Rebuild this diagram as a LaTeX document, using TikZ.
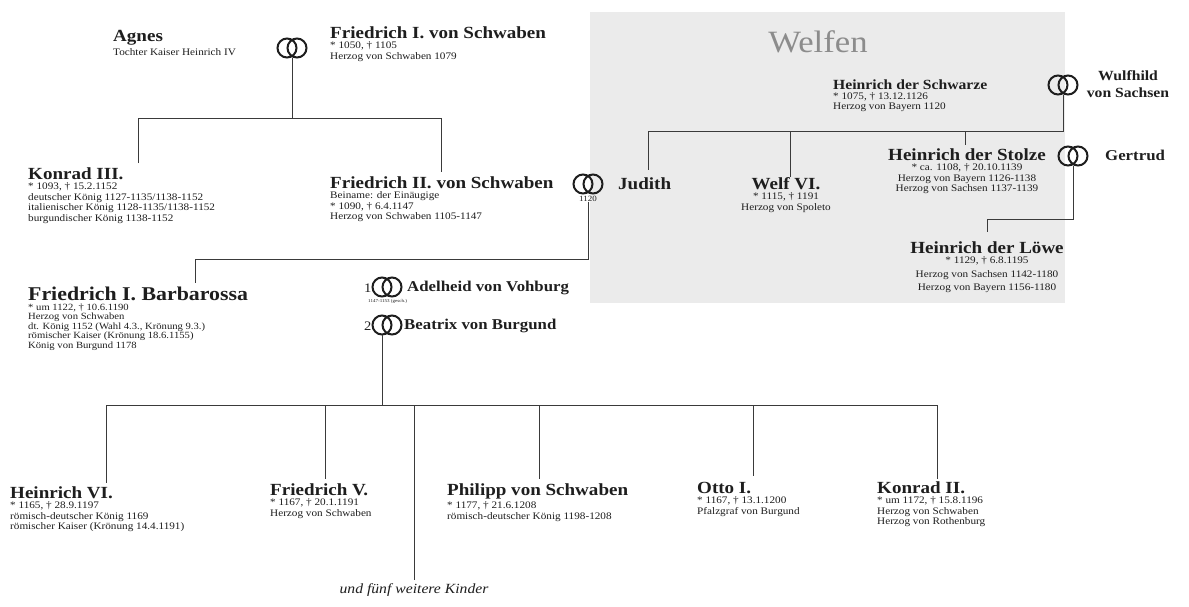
\documentclass[tikz,border=0pt]{standalone}
\usepackage{fontspec}
\setmainfont{Liberation Serif}[FakeStretch=1.12]
\definecolor{ink}{HTML}{1E1E1E}
\definecolor{lin}{HTML}{3A3A3A}
\definecolor{welfbg}{HTML}{EBEBEB}
\definecolor{welftx}{HTML}{8C8C8C}
\tikzset{
 tit/.style={font=\fontsize{17}{17}\selectfont\bfseries, inner sep=0pt, text=ink, anchor=base west},
 mtit/.style={tit, font=\fontsize{15}{17}\selectfont\bfseries},
 bigtit/.style={tit, font=\fontsize{19.5}{19.5}\selectfont\bfseries},
 sub/.style={font=\fontsize{10}{10.5}\selectfont, inner sep=0pt, align=left, text=ink, anchor=north west},
 subc/.style={sub, align=center, anchor=north},
 small/.style={sub, font=\fontsize{9.5}{9.5}\selectfont},
 num/.style={font=\fontsize{13}{13}\selectfont, inner sep=0pt, text=ink, anchor=base west},
 conn/.style={draw=lin, line width=0.9pt},
 ring/.style={draw=ink, line width=2pt},
 ringnode/.style={inner sep=0pt, minimum width=29pt, minimum height=19pt},
 welf/.style={font=\fontsize{31}{31}\selectfont, text=welftx, inner sep=0pt},
 note/.style={font=\fontsize{14}{14}\selectfont\itshape, text=ink, inner sep=0pt, anchor=base},
}
\newcommand\Ringe[2]{%
 \node[ringnode] (#1) at (#2) {};
 \draw[ring] ([xshift=-5pt]#1.center) circle[radius=9.5pt] ([xshift=5pt]#1.center) circle[radius=9.5pt];}
\begin{document}
\begin{tikzpicture}[x=1pt,y=-1pt]
\useasboundingbox (0,0) rectangle (1189,606);
\fill[white] (0,0) rectangle (1189,606);
\fill[welfbg] (590,12) rectangle (1065,303);
\node[welf] (welfen) at (818,42) {Welfen};

% ---------- Staufer, top
\node[tit] (agnes) at (113,41) {Agnes};
\node[sub] (agnesd) at ([yshift=-3pt]agnes.south west) {Tochter Kaiser Heinrich IV};
\Ringe{r1}{292,48}
\node[tit] (fs1) at (330,38) {Friedrich I. von Schwaben};
\node[sub] (fs1d) at ([yshift=-3pt]fs1.south west) {* 1050, † 1105\\Herzog von Schwaben 1079};

\coordinate (j1) at (292,118);
\coordinate (j1l) at (138,118);
\coordinate (j1r) at (441,118);
\coordinate (k3top) at (138,163);
\coordinate (f2top) at (441,172);
\draw[conn] (r1.south) -- (j1);
\draw[conn] (k3top) -- (j1l) -- (j1r) -- (f2top);

\node[tit] (k3) at (28,179) {Konrad III.};
\node[sub] (k3d) at ([yshift=-3pt]k3.south west) {* 1093, † 15.2.1152\\deutscher König 1127-1135/1138-1152\\italienischer König 1128-1135/1138-1152\\burgundischer König 1138-1152};

\node[tit] (f2) at (330,188) {Friedrich II. von Schwaben};
\node[sub] (f2d) at ([yshift=-3pt]f2.south west) {Beiname: der Einäugige\\* 1090, † 6.4.1147\\Herzog von Schwaben 1105-1147};

\Ringe{r3}{588,184}
\node[tit] (judith) at (618,189) {Judith};
\node[sub, font=\fontsize{8}{8}\selectfont, anchor=north] (r3d) at ([yshift=-2pt]r3.south) {1120};

\coordinate (j2) at (588,259);
\coordinate (j2l) at (195,259);
\coordinate (bbtop) at (195,283);
\draw[conn] (r3d.south) -- (j2) -- (j2l) -- (bbtop);

% ---------- Barbarossa
\node[bigtit] (bb) at (28,300) {Friedrich I. Barbarossa};
\node[small] (bbd) at ([yshift=-3pt]bb.south west) {* um 1122, † 10.6.1190\\Herzog von Schwaben\\dt. König 1152 (Wahl 4.3., Krönung 9.3.)\\römischer Kaiser (Krönung 18.6.1155)\\König von Burgund 1178};

\node[num] (n1) at (364,292) {1};
\Ringe{r4}{387,287}
\node[mtit] (adel) at (407,291) {Adelheid von Vohburg};
\node[sub, font=\fontsize{4.5}{4.5}\selectfont] (r4d) at (368,299) {1147-1153 (gesch.)};

\node[num] (n2) at (364,330) {2};
\Ringe{r5}{387,325}
\node[mtit] (beat) at (404,329) {Beatrix von Burgund};

% ---------- children of Barbarossa
\coordinate (j3) at (382,405);
\coordinate (j3l) at (106,405);
\coordinate (j3r) at (937,405);
\draw[conn] ([xshift=-5pt]r5.south) -- (j3);
\draw[conn] (j3l) -- (j3r);
\coordinate (h6top) at (106,483);
\coordinate (f5top) at (325,479);
\coordinate (moretop) at (414,580);
\coordinate (phtop) at (539,479);
\coordinate (ottop) at (753,476);
\coordinate (k2top) at (937,479);
\foreach \c in {h6top,f5top,moretop,phtop,ottop,k2top}
  \draw[conn] (\c |- j3) -- (\c);

\node[tit] (h6) at (10,498) {Heinrich VI.};
\node[sub] (h6d) at ([yshift=-3pt]h6.south west) {* 1165, † 28.9.1197\\römisch-deutscher König 1169\\römischer Kaiser (Krönung 14.4.1191)};
\node[tit] (f5) at (270,495) {Friedrich V.};
\node[sub] (f5d) at ([yshift=-3pt]f5.south west) {* 1167, † 20.1.1191\\Herzog von Schwaben};
\node[note] (more) at (414,593) {und fünf weitere Kinder};
\node[tit] (ph) at (447,495) {Philipp von Schwaben};
\node[sub] (phd) at ([yshift=-3pt]ph.south west) {* 1177, † 21.6.1208\\römisch-deutscher König 1198-1208};
\node[tit] (otto) at (697,493) {Otto I.};
\node[sub] (ottod) at ([yshift=-3pt]otto.south west) {* 1167, † 13.1.1200\\Pfalzgraf von Burgund};
\node[tit] (k2) at (877,493) {Konrad II.};
\node[sub] (k2d) at ([yshift=-3pt]k2.south west) {* um 1172, † 15.8.1196\\Herzog von Schwaben\\Herzog von Rothenburg};

% ---------- Welfen
\node[mtit, font=\fontsize{14}{17}\selectfont\bfseries] (hs) at (833,89) {Heinrich der Schwarze};
\node[sub] (hsd) at ([yshift=-3pt]hs.south west) {* 1075, † 13.12.1126\\Herzog von Bayern 1120};
\Ringe{r6}{1063,85}
\node[mtit, font=\fontsize{14}{17}\selectfont\bfseries, align=center, anchor=north] (wulf) at (1128,70) {Wulfhild\\von Sachsen};

\coordinate (j4) at (1063,131);
\coordinate (jutop) at (648,170);
\coordinate (w6top) at (790,177);
\coordinate (sttop) at (965,145);
\draw[conn] (r6.south) -- (j4) -- (jutop |- j4) -- (jutop);
\draw[conn] (w6top |- j4) -- (w6top);
\draw[conn] (sttop |- j4) -- (sttop);

\node[tit, anchor=base] (w6) at (786,189) {Welf VI.};
\node[subc] (w6d) at ([yshift=-3pt]w6.south) {* 1115, † 1191\\Herzog von Spoleto};

\node[tit] (hst) at (888,160) {Heinrich der Stolze};
\node[subc] (hstd) at ([yshift=-3pt]hst.south) {* ca. 1108, † 20.10.1139\\Herzog von Bayern 1126-1138\\Herzog von Sachsen 1137-1139};
\Ringe{r7}{1073,156}
\node[mtit] (gert) at (1105,160) {Gertrud};

\coordinate (j5) at (1073,219);
\coordinate (hltop) at (987,232);
\draw[conn] (r7.south) -- (j5) -- (hltop |- j5) -- (hltop);
\node[tit, anchor=base] (hl) at (987,253) {Heinrich der Löwe};
\node[subc, font=\fontsize{10}{13.5}\selectfont] (hld) at ([yshift=-3pt]hl.south) {* 1129, † 6.8.1195\\Herzog von Sachsen 1142-1180\\Herzog von Bayern 1156-1180};
\end{tikzpicture}
\end{document}
